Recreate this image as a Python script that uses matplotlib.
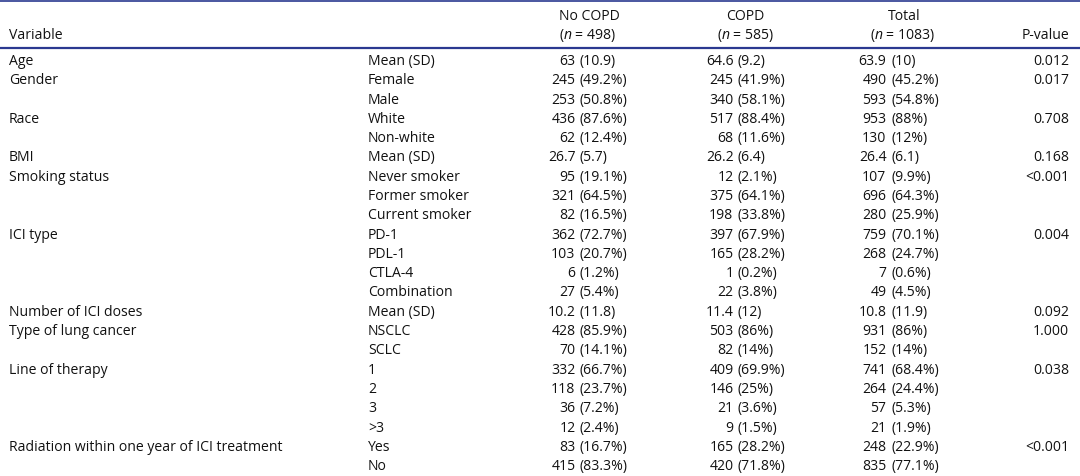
import matplotlib
matplotlib.use("Agg")
import matplotlib.pyplot as plt

# ---------------- data ----------------
variables = ["Age", "Gender", "Race", "BMI", "Smoking status", "ICI type",
             "Number of ICI doses", "Type of lung cancer", "Line of therapy",
             "Radiation within one year of ICI treatment"]
levels = [["Mean (SD)"], ["Female", "Male"], ["White", "Non-white"], ["Mean (SD)"],
          ["Never smoker", "Former smoker", "Current smoker"],
          ["PD-1", "PDL-1", "CTLA-4", "Combination"], ["Mean (SD)"],
          ["NSCLC", "SCLC"], ["1", "2", "3", ">3"], ["Yes", "No"]]
no_copd = ["63 (10.9)", "245 (49.2%)", "253 (50.8%)", "436 (87.6%)", "62 (12.4%)",
           "26.7 (5.7)", "95 (19.1%)", "321 (64.5%)", "82 (16.5%)", "362 (72.7%)",
           "103 (20.7%)", "6 (1.2%)", "27 (5.4%)", "10.2 (11.8)", "428 (85.9%)",
           "70 (14.1%)", "332 (66.7%)", "118 (23.7%)", "36 (7.2%)", "12 (2.4%)",
           "83 (16.7%)", "415 (83.3%)"]
copd = ["64.6 (9.2)", "245 (41.9%)", "340 (58.1%)", "517 (88.4%)", "68 (11.6%)",
        "26.2 (6.4)", "12 (2.1%)", "375 (64.1%)", "198 (33.8%)", "397 (67.9%)",
        "165 (28.2%)", "1 (0.2%)", "22 (3.8%)", "11.4 (12)", "503 (86%)",
        "82 (14%)", "409 (69.9%)", "146 (25%)", "21 (3.6%)", "9 (1.5%)",
        "165 (28.2%)", "420 (71.8%)"]
total = ["63.9 (10)", "490 (45.2%)", "593 (54.8%)", "953 (88%)", "130 (12%)",
         "26.4 (6.1)", "107 (9.9%)", "696 (64.3%)", "280 (25.9%)", "759 (70.1%)",
         "268 (24.7%)", "7 (0.6%)", "49 (4.5%)", "10.8 (11.9)", "931 (86%)",
         "152 (14%)", "741 (68.4%)", "264 (24.4%)", "57 (5.3%)", "21 (1.9%)",
         "248 (22.9%)", "835 (77.1%)"]
p_values = ["0.012", "0.017", "0.708", "0.168", "<0.001", "0.004", "0.092",
            "1.000", "0.038", "<0.001"]
col_headers = ["No COPD", "COPD", "Total"]
col_n = [498, 585, 1083]

# ---------------- style ----------------
FONT = "Open Sans"
FS = 10.1
TXT = "#111111"
RULE = "#2b3990"
plt.rcParams["font.family"] = [FONT, "DejaVu Sans"]
plt.rcParams["font.weight"] = 500
plt.rcParams["mathtext.fontset"] = "custom"
plt.rcParams["mathtext.it"] = FONT + ":italic"
plt.rcParams["mathtext.rm"] = FONT

W, H = 1080, 476
fig = plt.figure(figsize=(W / 100, H / 100), dpi=100)
ax = fig.add_axes([0, 0, 1, 1])
ax.set_xlim(0, W)
ax.set_ylim(H, 0)
ax.axis("off")

# rules
ax.axhline(1.2, color=RULE, lw=1.2)
ax.axhline(48.0, color=RULE, lw=1.6)


def t(x, y, s, ha="left"):
    ax.text(x, y, s, fontsize=FS, color=TXT, va="baseline", ha=ha)


# header
t(9, 39, "Variable")
h1_x = [589, 745, 904]
h2_x = [588, 746, 903]
for i, (h, n) in enumerate(zip(col_headers, col_n)):
    t(h1_x[i], 20, h, ha="center")
    t(h2_x[i], 39, "($n$ = %d)" % n, ha="center")
t(1069, 39, "P-value", ha="right")

# body
y0, step = 65.0, 19.29
paren_x = [580, 738, 891]
cols = [no_copd, copd, total]
row = 0
for gi, (var, levs) in enumerate(zip(variables, levels)):
    for li, lev in enumerate(levs):
        y = y0 + row * step
        if li == 0:
            t(9, y, var)
            t(1069, y, p_values[gi], ha="right")
        t(368, y, lev)
        for c, px in zip(cols, paren_x):
            num, rest = c[row].split(" ", 1)
            t(px - 4.6, y, num, ha="right")
            t(px, y, rest)
        row += 1

fig.savefig("out.png", dpi=100, facecolor="white")
